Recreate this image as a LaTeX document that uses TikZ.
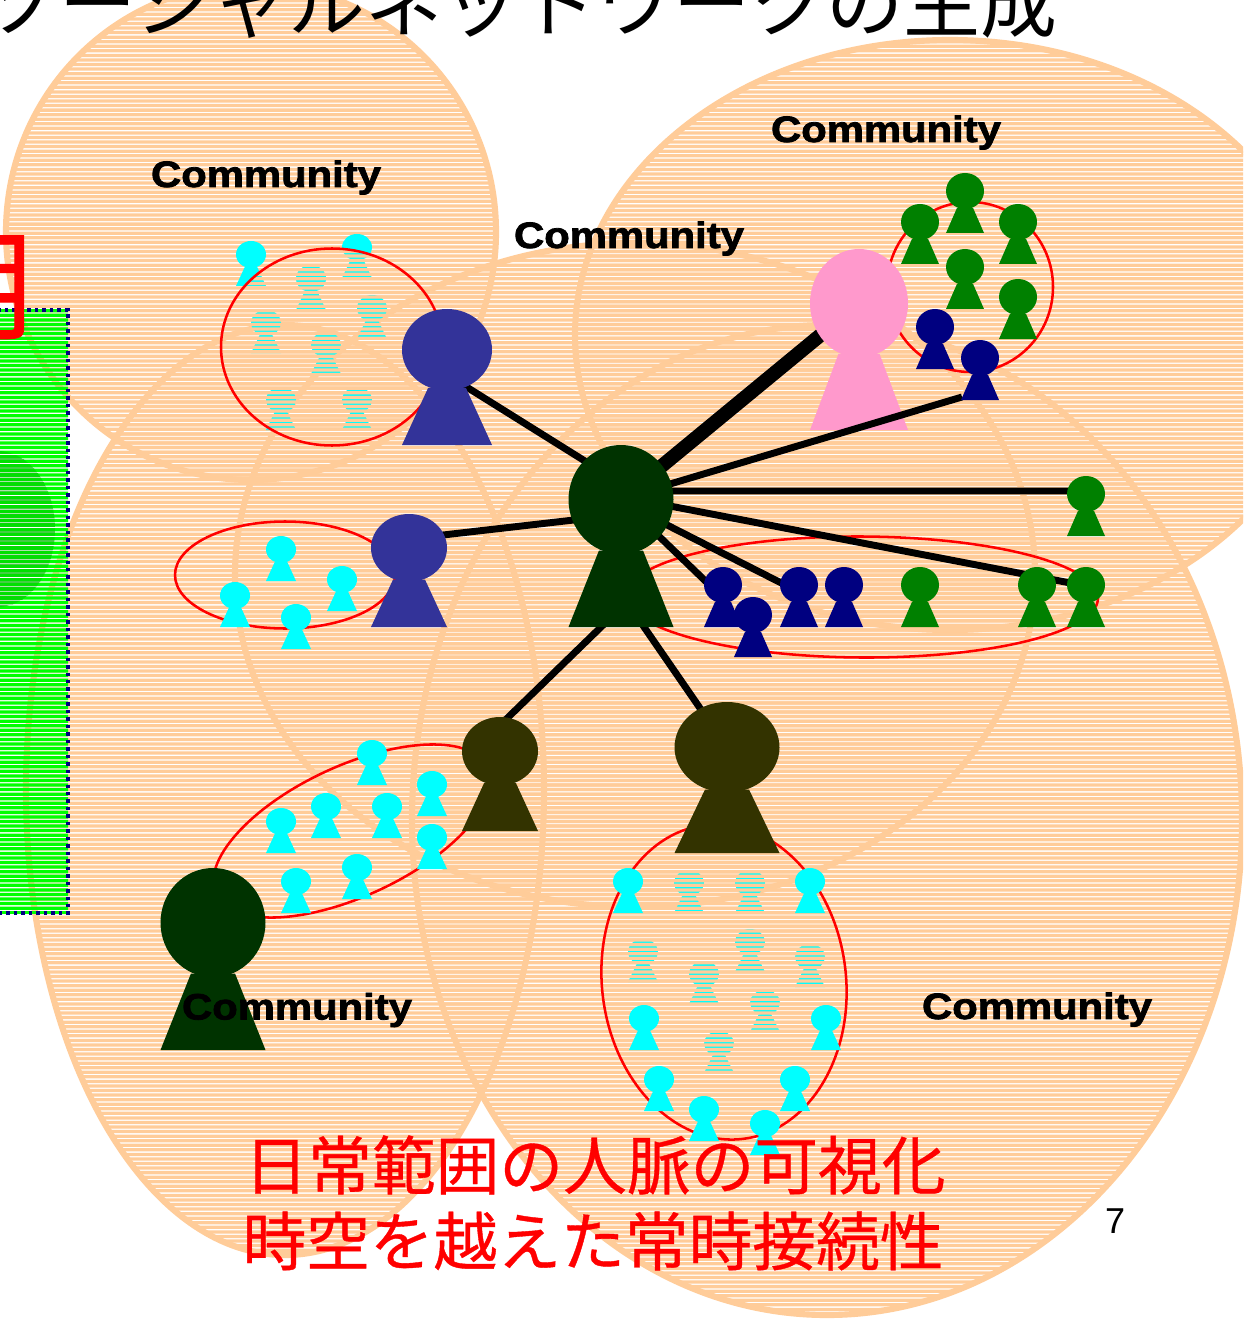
\documentclass[tikz,border=0pt]{standalone}
\usepackage{fontspec}
\usetikzlibrary{shapes.geometric}
\setmainfont{Liberation Sans}
\newfontfamily\cjk{Noto Sans CJK JP}
\newfontfamily\cjkheavy[FakeBold=0.6]{Noto Sans CJK JP}
\newfontfamily\commfont[FakeStretch=1.14,FakeBold=2.2]{Liberation Sans Bold}
\definecolor{orangeF}{HTML}{FFCC99}
\definecolor{dkgreen}{HTML}{003300}
\definecolor{blueP}{HTML}{333399}
\definecolor{pinkP}{HTML}{FF99CC}
\definecolor{oliveP}{HTML}{333300}
\definecolor{navyP}{HTML}{000080}
\definecolor{greenP}{HTML}{008000}
\definecolor{cyanP}{HTML}{00FFFF}
\definecolor{limeP}{HTML}{00FF00}
\definecolor{limeD}{HTML}{00E000}
\pgfdeclarelayer{bg}\pgfdeclarelayer{conn}\pgfdeclarelayer{pk}\pgfdeclarelayer{conntop}
\pgfsetlayers{bg,conn,pk,conntop,main}
\tikzset{
  headnode/.style={ellipse,inner sep=0pt,outer sep=0pt,draw=none},
  ringline/.style={draw=orangeF,line width=4.6pt},
  redring/.style={draw=red,line width=1.9pt},
  tie/.style={draw=black,line width=5.2pt},
  commlabel/.style={inner sep=0pt,font=\commfont\fontsize{27.5}{30}\selectfont},
  redlabel/.style={inner sep=0pt,text=red,font=\cjkheavy\fontsize{47.8}{50}\selectfont}
}
\newcommand{\stripefill}[2]{%
  \begin{scope}\clip #1;
    \fill[#2] \foreach \k in {-1,...,290} { (-30,{\k*4.56+3.62}) rectangle (1270,{\k*4.56+6.88}) };
  \end{scope}}
\newcommand{\person}[6]{%
  \pgfmathsetmacro{\perh}{#4-#3}%
  \fill[#6] ({#2-.21*#5},{#3+.58*\perh}) -- ({#2+.21*#5},{#3+.58*\perh}) -- ({#2+.5*#5},#4) -- ({#2-.5*#5},#4) -- cycle;
  \node[headnode,fill=#6,minimum width={#5*0.75pt},minimum height={0.6*\perh*0.75pt}] (#1) at (#2,{#3+.3*\perh}) {};}
\begin{document}
\begin{tikzpicture}[x=0.75pt,y=-0.75pt]
\useasboundingbox (0,0) rectangle (1247,1319);
\begin{pgfonlayer}{bg}
\fill[white] (0,0) rectangle (1247,1319);
\begin{scope}
\clip (-30,-30) rectangle (1243,1330);
% community circles
\newcommand{\ringA}{(251,232) ellipse [x radius=245,y radius=248]}
\newcommand{\ringB}{(950,335) ellipse [x radius=375,y radius=295]}
\newcommand{\ringC}{(635,575) ellipse [x radius=400,y radius=332]}
\newcommand{\ringD}{(285,790) ellipse [x radius=259,y radius=465]}
\newcommand{\ringE}{(827,820) ellipse [x radius=415,y radius=495]}
\foreach \r in {\ringA,\ringB,\ringC,\ringD,\ringE}{
  \draw[ringline] \r;
  \stripefill{\r}{orangeF}
}
% green panel at left
\stripefill{(-2.5,529) ellipse [x radius=57.5,y radius=78]}{black}
\stripefill{(-30,310) rectangle (68,913)}{limeP}
\stripefill{(-2.5,529) ellipse [x radius=57.5,y radius=78]}{limeD}
\draw[navyP,line width=2.6pt,dash pattern=on 2.6pt off 3pt] (-10,310) -- (68,310) -- (68,913) -- (-10,913);
% people covered by the stripes of the circled groups
\foreach \x/\t/\b in {251/241/286,357/234/278,311/265/310,372/295/339,266/310/353,326/332/374,281/387/430,357/387/430,
  689/870/913,750/870/913,643/939/982,750/929/972,810/944/987,704/961/1004,765/990/1032,719/1031/1073}{
  \person{cy\x-\t}{\x}{\t}{\b}{30}{cyanP}
}
\stripefill{(332,347) ellipse [x radius=111,y radius=98.5]}{orangeF}
\stripefill{[rotate around={7:(724,982)}] (724,982) ellipse [x radius=122,y radius=158]}{orangeF}
\draw[redring] (332,347) ellipse [x radius=111,y radius=98.5];
\draw[redring,rotate around={7:(724,982)}] (724,982) ellipse [x radius=122,y radius=158];
\draw[redring] (285,575) ellipse [x radius=110,y radius=53.5];
\draw[redring,rotate around={-0.3:(862,597)}] (862,597) ellipse [x radius=236,y radius=60.5];
\draw[redring,rotate around={25:(352,831)}] (352,831) ellipse [x radius=150,y radius=65];
\draw[redring] (970,287) ellipse [x radius=83,y radius=85];
\end{scope}
\end{pgfonlayer}
% people
\begin{pgfonlayer}{pk}
\person{pink}{859}{249}{430}{98}{pinkP}
\end{pgfonlayer}
\person{main}{621}{445}{627}{105}{dkgreen}
\person{low}{213}{868}{1050}{105}{dkgreen}
\person{bluea}{447}{309}{445}{90}{blueP}
\person{blueb}{409}{514}{627}{76}{blueP}
\person{olivea}{500}{717}{831}{76}{oliveP}
\person{oliveb}{727}{702}{853}{105}{oliveP}
\foreach \x/\t in {965/173,920/204,1018/204,965/249,1018/279,1086/476,920/567,1037/567,1086/567}{
  \person{gr\x-\t}{\x}{\t}{\t+60}{38}{greenP}
}
\foreach \x/\t in {935/309,980/340,723/567,753/597,799/567,844/567}{
  \person{nv\x-\t}{\x}{\t}{\t+60}{38}{navyP}
}
\foreach \x/\t in {281/536,235/582,296/604,342/566,372/740,432/771,326/793,387/793,281/808,432/824,357/854,296/868,
  628/868,810/868,644/1005,826/1005,659/1066,795/1066,704/1096,765/1110}{
  \person{cy\x-\t}{\x}{\t}{\t+45}{30}{cyanP}
}
% connectors
\begin{pgfonlayer}{conn}
\draw[tie] ([shift={(0,-16)}]main.center) -- ([shift={(0,25)}]bluea.center);
\draw[draw=black,line width=10.5pt] (main.center) -- (pink.center);
\draw[tie] ([shift={(0,-8.6)}]main.center) -- ([shift={(0,-3)}]gr1086-476.center);
\draw[tie] ([shift={(0,-3)}]main.center) -- ([shift={(0,1)}]gr1086-567.center);
\draw[tie] ([shift={(0,2)}]main.center) -- ([shift={(0,7)}]nv799-567.center);
\draw[tie] (main.center) -- ([shift={(0,13)}]nv723-567.center);
\draw[tie] ([shift={(0,15)}]main.center) -- ([shift={(0,-9)}]blueb.center);
\draw[tie] ([shift={(0,108)}]main.center) -- ([shift={(0,-26)}]olivea.center);
\draw[tie] ([shift={(0,94)}]main.center) -- (oliveb.center);
\end{pgfonlayer}
\begin{pgfonlayer}{conntop}
\draw[tie] ([shift={(0,-1)}]main.center) -- ([shift={(-18,39)}]nv980-340.center);
\end{pgfonlayer}
% texts
\node[anchor=base west,inner sep=0pt,font=\cjk\fontsize{57.7}{60}\selectfont] (title) at (-18,32) {ソーシャルネットワークの生成};
\node[anchor=base east,inner sep=0pt,text=red,font=\cjkheavy\fontsize{92}{95}\selectfont] (cutglyph) at (38,330) {用};
\node[commlabel] (cm1) at (266,177.5) {Community};
\node[commlabel] (cm2) at (886,132.5) {Community};
\node[commlabel] (cm3) at (629,238.5) {Community};
\node[commlabel] (cm4) at (297,1010) {Community};
\node[commlabel] (cm5) at (1037,1009.5) {Community};
\node[redlabel] (line1) at (595,1165) {日常範囲の人脈の可視化};
\node[redlabel] (line2) at (593,1241) {時空を越えた常時接続性};
\node[inner sep=0pt,font=\fontsize{27}{30}\selectfont] (pageno) at (1115,1221) {7};
\end{tikzpicture}
\end{document}
